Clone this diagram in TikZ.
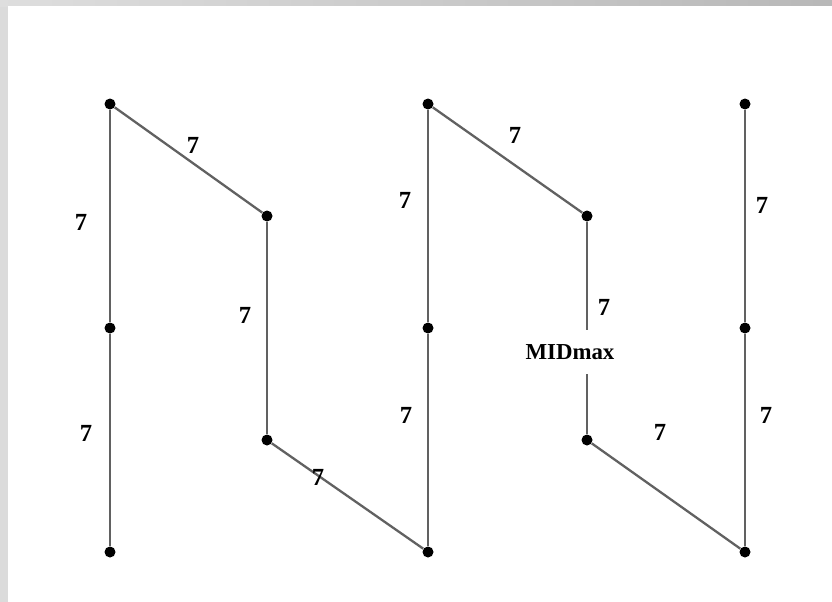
\documentclass[tikz,border=0pt]{standalone}
\usepackage{fontspec}
\setmainfont{Liberation Serif}
\usepackage{tikz}
\usetikzlibrary{positioning,calc}

\begin{document}
\begin{tikzpicture}[x=0.02cm,y=-0.02cm,
  pt/.style={circle,fill=black,inner sep=0pt,minimum size=0.22cm},
  edge/.style={draw=black!62,line width=1.3pt},
  wt/.style={font=\fontsize{14}{16}\selectfont\bfseries,inner sep=1pt}]
% frame
\fill[black!14] (0,0) rectangle (832,602);
\shade[left color=black!13,right color=black!28] (0,0) rectangle (832,6);
\fill[white] (8,6) rectangle (832,602);
\useasboundingbox (0,0) rectangle (832,602);
% vertices
\node[pt] (a1) at (110,104) {};
\node[pt] (a2) at (110,328) {};
\node[pt] (a3) at (110,552) {};
\node[pt] (b1) at (267,216) {};
\node[pt] (b2) at (267,440) {};
\node[pt] (c1) at (428,104) {};
\node[pt] (c2) at (428,328) {};
\node[pt] (c3) at (428,552) {};
\node[pt] (d1) at (587,216) {};
\node[pt] (d2) at (587,440) {};
\node[pt] (e1) at (745,104) {};
\node[pt] (e2) at (745,328) {};
\node[pt] (e3) at (745,552) {};
% edges
\draw[edge] (a1) -- (a2);
\draw[edge] (a2) -- (a3);
\draw[edge] (a1) -- (b1);
\draw[edge] (b1) -- (b2);
\draw[edge] (b2) -- (c3);
\draw[edge] (c3) -- (c2);
\draw[edge] (c2) -- (c1);
\draw[edge] (c1) -- (d1);
\draw[edge] (d1) -- (d2);
\draw[edge] (d2) -- (e3);
\draw[edge] (e3) -- (e2);
\draw[edge] (e2) -- (e1);
% weights
\node[wt] (w1) at (81,222) {7};
\node[wt] (w2) at (86,433) {7};
\node[wt] (w3) at (193,145) {7};
\node[wt] (w4) at (245,315) {7};
\node[wt] (w5) at (318,477) {7};
\node[wt] (w6) at (405,200) {7};
\node[wt] (w7) at (406,415) {7};
\node[wt] (w8) at (515,135) {7};
\node[wt] (w9) at (604,307) {7};
\node[wt] (w10) at (660,432) {7};
\node[wt] (w11) at (762,205) {7};
\node[wt] (w12) at (766,415) {7};
\node[wt,font=\fontsize{13}{15}\selectfont\bfseries,fill=white,inner ysep=8pt] (mid) at (570,352) {MIDmax};
\end{tikzpicture}
\end{document}
